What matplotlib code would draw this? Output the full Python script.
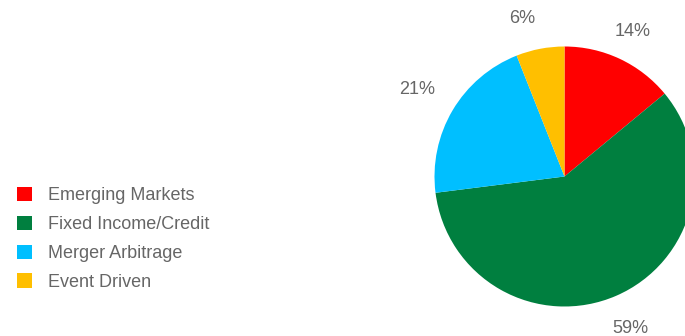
import matplotlib
matplotlib.use("Agg")
import matplotlib.pyplot as plt
import numpy as np

categories = ["Emerging Markets", "Fixed Income/Credit", "Merger Arbitrage", "Event Driven"]
shares = [14, 59, 21, 6]
colors = ["#FF0000", "#007F3F", "#00BFFF", "#FFBF00"]

plt.rcParams["font.family"] = ["Liberation Sans", "DejaVu Sans"]
text_color = "#666666"

W, H, DPI = 685, 336, 100
fig = plt.figure(figsize=(W / DPI, H / DPI), dpi=DPI)

# pie placed by its centre and radius in pixels
cx, cy, r = 564.5, 176.5, 130
ax = fig.add_axes([(cx - r) / W, (H - cy - r) / H, 2 * r / W, 2 * r / H])
wedges, texts = ax.pie(
    shares,
    colors=colors,
    startangle=90,
    counterclock=False,
    labels=[f"{v}%" for v in shares],
    labeldistance=1.25,
    textprops=dict(color=text_color, fontsize=13),
    wedgeprops=dict(linewidth=0),
)

# percentage labels sit outside each wedge, spread a little to avoid crowding
label_dist = [1.235, 1.27, 1.32, 1.26]
label_turn = [0, 0, 0, 4]
for w, t, d, turn in zip(wedges, texts, label_dist, label_turn):
    ang = np.deg2rad((w.theta1 + w.theta2) / 2 + turn)
    t.set_position((d * np.cos(ang), d * np.sin(ang)))
    t.set_horizontalalignment("center")
    t.set_verticalalignment("center")

ax.set_xlim(-1, 1)
ax.set_ylim(-1, 1)
ax.set_aspect("auto")
ax.axis("off")

fig.legend(
    wedges,
    categories,
    loc="upper left",
    bbox_to_anchor=(17 / W, 1 - 187 / H),
    frameon=False,
    fontsize=13,
    labelcolor=text_color,
    handlelength=0.85,
    handleheight=0.85,
    handletextpad=0.85,
    labelspacing=0.63,
    borderpad=0,
    borderaxespad=0,
)

fig.savefig("out.png", dpi=DPI)
